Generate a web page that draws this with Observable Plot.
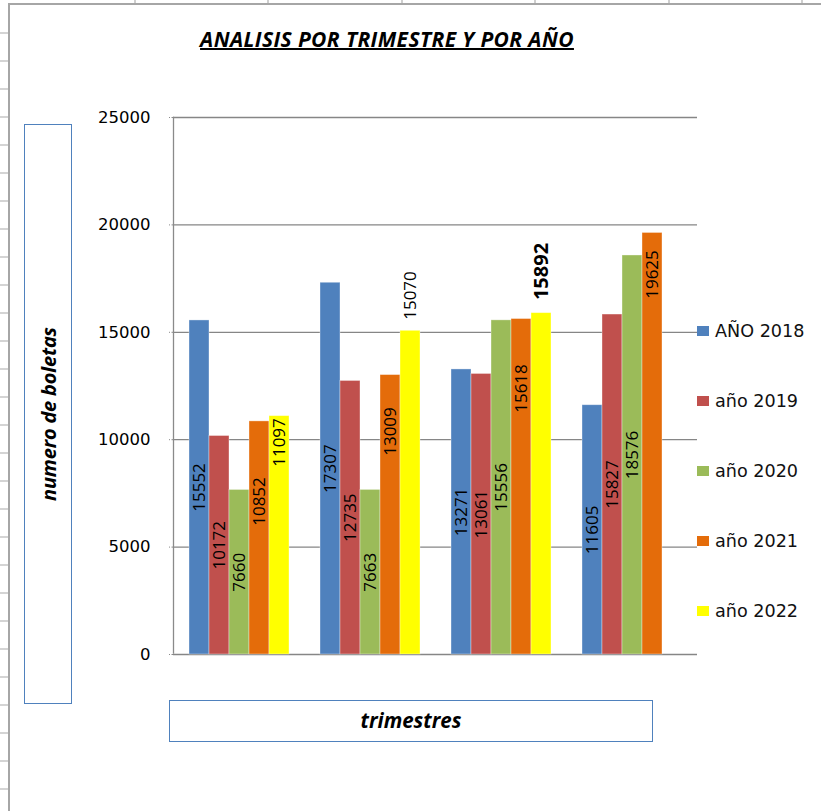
<!DOCTYPE html>
<html><head><meta charset="utf-8">
<script src="https://cdn.jsdelivr.net/npm/d3@7"></script>
<script src="https://cdn.jsdelivr.net/npm/@observablehq/plot@0.6"></script>
<style>
body{margin:0;background:#fff;}
#page{position:relative;width:821px;height:811px;overflow:hidden;background:#fff;}
#page svg{position:absolute;left:0;top:0;}
.abs{position:absolute;}
.title{left:0;width:774px;top:25px;text-align:center;font-family:"Open Sans";font-weight:bold;font-style:italic;font-size:21px;text-decoration:underline;text-decoration-thickness:2px;color:#000;letter-spacing:0.4px;white-space:nowrap;}
.box{border:1.5px solid #4F81BD;box-sizing:border-box;background:#fff;}
.ytitle{left:24px;top:124px;width:48px;height:580px;}
.ytitle span{position:absolute;left:50%;top:50%;transform:translate(-50%,-50%) rotate(-90deg);font-family:"Open Sans";font-weight:bold;font-style:italic;font-size:20px;white-space:nowrap;letter-spacing:-0.2px;}
.xtitle{left:169px;top:700px;width:484px;height:42px;text-align:center;font-family:"Open Sans";font-weight:bold;font-style:italic;font-size:20.5px;line-height:38px;letter-spacing:0px;}
.leg{left:697px;font-family:"DejaVu Sans";font-size:17.6px;color:#111;white-space:nowrap;}
.leg i{display:inline-block;width:12px;height:10px;margin-right:6px;vertical-align:1px;}
</style></head><body><div id="page"></div>
<script>
// ---- data ----
const quarters = ["Trimestre 1", "Trimestre 2", "Trimestre 3", "Trimestre 4"];
const years = ["AÑO 2018", "año 2019", "año 2020", "año 2021", "año 2022"];
const colors = ["#4F81BD", "#C0504D", "#9BBB59", "#E46C0A", "#FFFF00"];
const values2018 = [15552, 17307, 13271, 11605];
const values2019 = [10172, 12735, 13061, 15827];
const values2020 = [7660, 7663, 15556, 18576];
const values2021 = [10852, 13009, 15618, 19625];
const values2022 = [11097, 15070, 15892, null];
// where the (manually moved) data labels sit, in data units; null = centred in bar
const labelAt2018 = [null, null, null, null];
const labelAt2019 = [null, null, null, null];
const labelAt2020 = [null, null, null, null];
const labelAt2021 = [7123, 10382, 12384, 17691];
const labelAt2022 = [9870, 16713, 17830, null];
const highlightedLabel = 15892;
const yTicks = [0, 5000, 10000, 15000, 20000, 25000];
const titleText = "ANALISIS POR TRIMESTRE Y POR AÑO";
const yTitle = "numero de boletas";
const xTitle = "trimestres";

const series = [values2018, values2019, values2020, values2021, values2022];
const labelAts = [labelAt2018, labelAt2019, labelAt2020, labelAt2021, labelAt2022];
const data = [];
series.forEach((vals, j) => vals.forEach((v, i) => {
  if (v != null) data.push({quarter: quarters[i], year: years[j], value: v, labelAt: labelAts[j][i] ?? v / 2});
}));

const page = document.getElementById("page");

// decorative spreadsheet cell lines behind the chart
for (let k = 1; k <= 6; k++) {
  const d = document.createElement("div");
  d.className = "abs";
  d.style.cssText = `left:${Math.round(k * 133.5)}px;top:0;width:1.5px;height:4px;background:#cfcfcf;`;
  page.appendChild(d);
}
for (let k = 1; k <= 28; k++) {
  const d = document.createElement("div");
  d.className = "abs";
  d.style.cssText = `left:0;top:${4 + 28 * k}px;width:8px;height:1.5px;background:#d4d4d4;`;
  page.appendChild(d);
}
const frameLineTop = document.createElement("div");
frameLineTop.className = "abs";
frameLineTop.style.cssText = "left:8px;top:3px;width:813px;height:2px;background:#a6a6a6;";
page.appendChild(frameLineTop);
const frameLineLeft = document.createElement("div");
frameLineLeft.className = "abs";
frameLineLeft.style.cssText = "left:8px;top:3px;width:2px;height:808px;background:#a6a6a6;";
page.appendChild(frameLineLeft);

const chart = Plot.plot({
  width: 821,
  height: 811,
  marginLeft: 173,
  marginRight: 124,
  marginTop: 117,
  marginBottom: 157,
  style: {background: "transparent", fontFamily: "DejaVu Sans", fontSize: "16.5px", color: "#000"},
  fx: {domain: quarters, padding: 0, axis: null},
  x: {domain: years, paddingInner: 0, paddingOuter: 0.775, axis: null},
  y: {domain: [0, 25000], axis: null},
  color: {domain: years, range: colors},
  marks: [
    Plot.gridY(yTicks.slice(1), {stroke: "#868686", strokeOpacity: 1, strokeWidth: 1.3}),
    Plot.ruleY([0], {stroke: "#868686", strokeWidth: 1.6}),
    Plot.barY(data, {fx: "quarter", x: "year", y: "value", fill: "year", stroke: "#ffffff", strokeOpacity: 0.45, strokeWidth: 0.8}),
    Plot.text(data.filter(d => d.value !== highlightedLabel), {
      fx: "quarter", x: "year", y: "labelAt", text: d => String(d.value),
      rotate: -90, fontFamily: "Open Sans", fontSize: 17, fill: "#000"
    }),
    Plot.text(data.filter(d => d.value === highlightedLabel), {
      fx: "quarter", x: "year", y: "labelAt", text: d => String(d.value),
      rotate: -90, fontFamily: "Open Sans", fontSize: 20, fontWeight: "bold", fill: "#000"
    }),
    Plot.frame({anchor: "left", facetAnchor: "left", stroke: "#8a8a8a", strokeWidth: 1.3, strokeDasharray: "1.5,1.5"}),
    Plot.axisY({ticks: yTicks, tickSize: 4, tickPadding: 19, tickFormat: d => String(d), stroke: "#8a8a8a", strokeDasharray: "1.5,1.5", fontSize: 16.5, fill: "#000"})
  ]
});
page.appendChild(chart);

// title
const t = document.createElement("div");
t.className = "abs title";
t.textContent = titleText;
page.appendChild(t);

// axis title boxes
const yt = document.createElement("div");
yt.className = "abs box ytitle";
yt.innerHTML = `<span>${yTitle}</span>`;
page.appendChild(yt);
const xt = document.createElement("div");
xt.className = "abs box xtitle";
xt.textContent = xTitle;
page.appendChild(xt);

// legend
years.forEach((y, j) => {
  const d = document.createElement("div");
  d.className = "abs leg";
  d.style.top = (321 + 70 * j) + "px";
  d.innerHTML = `<i style="background:${colors[j]}"></i>${y}`;
  page.appendChild(d);
});
</script></body></html>
